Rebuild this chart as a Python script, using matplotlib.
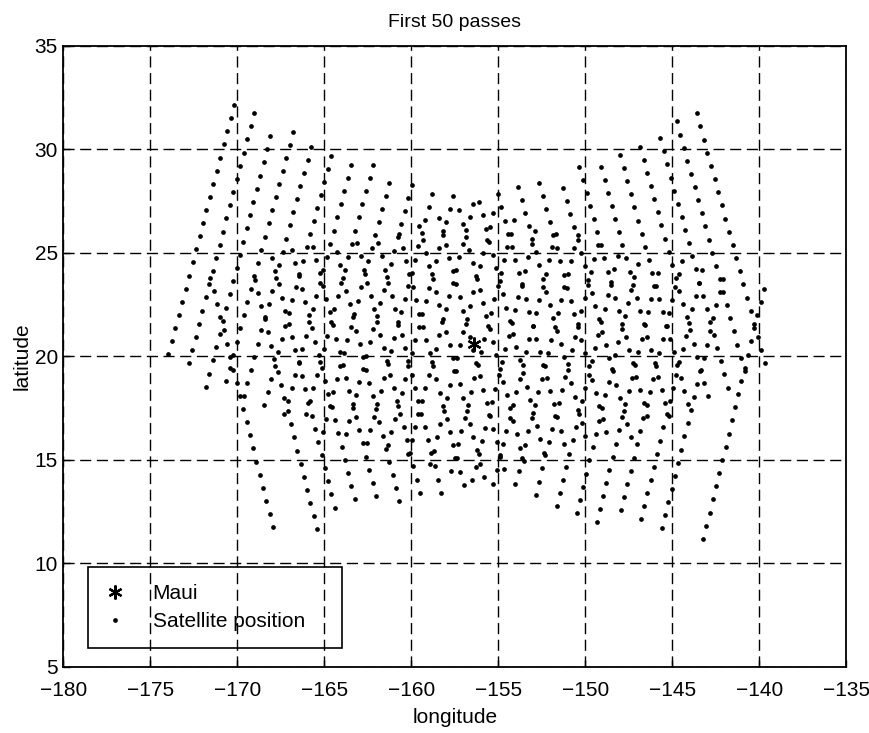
#!/usr/bin/env python3
import matplotlib
matplotlib.use('Agg')
import matplotlib.pyplot as plt
import numpy as np

plt.rcParams['font.family'] = ['Liberation Sans', 'DejaVu Sans']

# ground station
maui_lon = -156.4
maui_lat = 20.6

# each pass: first and last sampled position (lon, lat), read off the plot
# ascending passes (SW -> NE)
asc_lon0 = [-173.96, -172.80, -171.80, -170.65, -169.63, -168.46, -167.29, -166.05, -165.10,
            -163.78, -162.55, -161.35, -160.18, -158.90, -157.70, -156.50, -155.29, -154.02,
            -152.85, -151.65, -150.50, -149.35, -147.95, -146.80, -145.60, -143.22]
asc_lat0 = [20.10, 19.66, 18.53, 18.81, 18.08, 17.65, 17.20, 17.20, 16.35,
            16.23, 15.80, 15.71, 15.30, 14.81, 14.47, 14.00, 13.85, 13.83,
            13.31, 12.75, 12.43, 11.98, 12.57, 12.12, 11.69, 11.17]
asc_lon1 = [-170.19, -169.04, -168.10, -166.78, -165.76, -164.60, -163.44, -162.20, -161.28,
            -159.98, -158.80, -157.60, -156.45, -155.30, -154.10, -152.90, -151.70, -150.45,
            -149.30, -148.15, -147.00, -145.85, -144.45, -143.30, -142.10, -139.75]
asc_lat1 = [32.14, 31.76, 30.65, 30.86, 30.13, 29.70, 29.25, 29.25, 28.40,
            28.28, 27.85, 27.76, 27.35, 26.91, 26.57, 26.05, 25.90, 25.88,
            25.36, 24.85, 24.48, 24.03, 24.62, 24.17, 23.74, 23.27]

# descending passes (NW -> SE)
desc_lon0 = [-143.60, -144.75, -145.70, -146.86, -148.00, -149.10, -150.34, -151.26, -152.66,
             -153.87, -155.04, -156.10, -157.25, -158.40, -159.55, -160.70, -161.90, -163.10,
             -164.30, -165.65, -166.85, -168.00, -169.00, -171.55]
desc_lat0 = [31.75, 31.35, 30.54, 30.13, 29.73, 29.17, 29.17, 28.15, 28.39,
             28.20, 27.83, 27.45, 27.05, 26.67, 26.28, 25.89, 25.46, 25.46,
             25.05, 25.30, 25.15, 24.74, 23.69, 23.79]
desc_lon1 = [-139.67, -140.85, -141.80, -142.95, -144.10, -145.20, -146.45, -147.40, -148.80,
             -150.00, -151.20, -152.40, -153.55, -154.70, -155.85, -157.00, -158.27, -159.50,
             -160.70, -162.03, -163.25, -164.40, -165.42, -167.96]
desc_lat1 = [19.66, 19.30, 18.49, 18.08, 17.68, 17.12, 17.12, 16.10, 16.34,
             16.15, 15.78, 15.35, 14.95, 14.57, 14.18, 13.79, 13.41, 13.41,
             13.00, 13.25, 13.10, 12.69, 11.64, 11.74]

samples_per_pass = 20

pass_lon0 = asc_lon0 + desc_lon0
pass_lat0 = asc_lat0 + desc_lat0
pass_lon1 = asc_lon1 + desc_lon1
pass_lat1 = asc_lat1 + desc_lat1

sat_lon = []
sat_lat = []
for lo0, la0, lo1, la1 in zip(pass_lon0, pass_lat0, pass_lon1, pass_lat1):
    # positions sampled at a fixed time step along the pass
    t = np.linspace(0.0, 1.0, samples_per_pass)
    sat_lon.extend(lo0 + (lo1 - lo0) * t)
    sat_lat.extend(la0 + (la1 - la0) * t)

fig = plt.figure(figsize=(8.7, 7.33), dpi=100)
ax = fig.add_axes([0.0728, 0.0905, 0.9, 0.8468])

ax.plot(maui_lon, maui_lat, linestyle='none', marker=(6, 2, 0), markersize=10,
        markeredgewidth=1.6, color='black', label='Maui')
ax.plot(sat_lon, sat_lat, linestyle='none', marker='o', markersize=3.4,
        markeredgewidth=0, color='black', label='Satellite position')

ax.set_xlim(-180, -135)
ax.set_ylim(5, 35)
ax.set_xticks(np.arange(-180, -134, 5))
ax.set_yticks(np.arange(5, 36, 5))
ax.grid(True, color='black', linestyle=(0, (8, 4)), linewidth=1.0)
ax.tick_params(direction='in', length=5, width=1, labelsize=15)
ax.tick_params(axis='x', pad=10)
ax.tick_params(axis='y', pad=4)
for s in ax.spines.values():
    s.set_linewidth(1.3)

ax.set_title('First 50 passes', fontsize=14, pad=14)
ax.set_xlabel('longitude', fontsize=15, labelpad=6)
ax.set_ylabel('latitude', fontsize=15, labelpad=2)

leg = ax.legend(loc='lower left', bbox_to_anchor=(0.0315, 0.03, 0.324, 0.14), mode='expand',
                borderaxespad=0, fancybox=False, edgecolor='black', facecolor='none',
                framealpha=1, fontsize=15, handlelength=1.0, handletextpad=1.3,
                borderpad=0.8, labelspacing=0.45, markerscale=1.0)
leg.get_frame().set_linewidth(1.2)

fig.savefig('out.png', dpi=100)
